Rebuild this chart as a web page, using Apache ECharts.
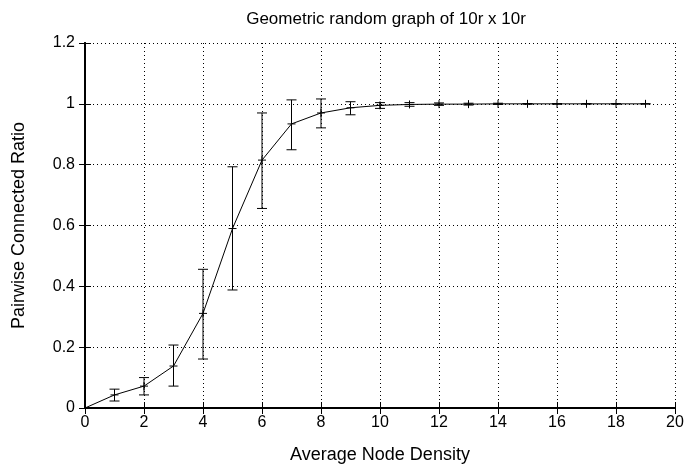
<!DOCTYPE html>
<html>
<head>
<meta charset="utf-8">
<script src="https://cdn.jsdelivr.net/npm/echarts@6/dist/echarts.min.js"></script>
<style>
html,body{margin:0;padding:0;background:#fff;}
#chart{width:686px;height:465px;}
</style>
</head>
<body>
<div id="chart"></div>
<script>
// average node density
var density = [0,1,2,3,4,5,6,7,8,9,10,11,12,13,14,15,16,17,18,19];
// mean ratio
var ratio = [0,0.043,0.072,0.138,0.311,0.590,0.815,0.934,0.970,0.987,0.995,0.998,0.999,0.999,1.0,1.0,1.0,1.0,1.0,1.0];
// error bar ends
var errLow = [0,0.023,0.043,0.072,0.161,0.388,0.656,0.849,0.921,0.964,0.985,0.992,0.995,0.996,0.998,0.999,0.999,1.0,1.0,1.0];
var errHigh = [0,0.062,0.100,0.207,0.456,0.793,0.970,1.013,1.016,1.007,1.004,1.004,1.003,1.002,1.002,1.001,1.001,1.0,1.0,1.0];
var xTicks = [0,2,4,6,8,10,12,14,16,18,20];
var yTicks = [0,0.2,0.4,0.6,0.8,1.0,1.2];

var chart = echarts.init(document.getElementById('chart'));

var lineData = density.map(function(d,i){ return [d, ratio[i]]; });
var errData = [];
for(var i=1;i<density.length;i++){
	errData.push([density[i], ratio[i], errLow[i], errHigh[i]]);
}

function renderErr(params, api){
	var x = api.value(0);
	var c = api.coord([x, api.value(1)]);
	var lo = api.coord([x, api.value(2)]);
	var hi = api.coord([x, api.value(3)]);
	var st = {stroke:'#000', lineWidth:1};
	return {
		type:'group',
		children:[
			{type:'line', shape:{x1:lo[0], y1:lo[1], x2:hi[0], y2:hi[1]}, style:st},
			{type:'line', shape:{x1:lo[0]-5, y1:lo[1], x2:lo[0]+5, y2:lo[1]}, style:st},
			{type:'line', shape:{x1:hi[0]-5, y1:hi[1], x2:hi[0]+5, y2:hi[1]}, style:st},
			{type:'line', shape:{x1:c[0]-4, y1:c[1], x2:c[0]+4, y2:c[1]}, style:st},
			{type:'line', shape:{x1:c[0], y1:c[1]-4, x2:c[0], y2:c[1]+4}, style:st}
		]
	};
}

var gridLine = {show:true, lineStyle:{color:'#000', type:[1,3], width:1}};
var font = 'Liberation Sans, Arial, sans-serif';

var option = {
	animation:false,
	title:{
		text:'Geometric random graph of 10r x 10r',
		left:381, top:6, textAlign:'center',
		textStyle:{fontFamily:font, fontSize:17, fontWeight:'normal', color:'#000'}
	},
	grid:{left:85, right:11, top:43, bottom:57, outerBoundsMode:'none', containLabel:false},
	xAxis:[{
		type:'value', min:0, max:20, interval:2,
		name:'Average Node Density', nameLocation:'middle', nameGap:38,
		nameTextStyle:{fontFamily:font, fontSize:18, color:'#000'},
		axisLine:{show:true, lineStyle:{color:'#000', width:2}},
		axisTick:{show:true, inside:true, length:6, lineStyle:{color:'#000'}},
		axisLabel:{fontFamily:font, fontSize:16, color:'#000', margin:7},
		splitLine:gridLine
	},{
		type:'value', min:0, max:20, interval:2, position:'top',
		axisLine:{show:true, lineStyle:{color:'#000', width:2}},
		axisTick:{show:true, inside:true, length:6, lineStyle:{color:'#000'}},
		axisLabel:{show:false}, splitLine:{show:false}
	}],
	yAxis:[{
		type:'value', min:0, max:1.2, interval:0.2,
		name:'Pairwise Connected Ratio', nameLocation:'middle', nameGap:57,
		nameTextStyle:{fontFamily:font, fontSize:18, color:'#000'},
		axisLine:{show:true, lineStyle:{color:'#000', width:2}},
		axisTick:{show:true, inside:true, length:6, lineStyle:{color:'#000'}},
		axisLabel:{fontFamily:font, fontSize:16, color:'#000', margin:10,
			formatter:function(v){ return String(Math.round(v*10)/10); }},
		splitLine:gridLine
	},{
		type:'value', min:0, max:1.2, interval:0.2, position:'right',
		axisLine:{show:true, lineStyle:{color:'#000', width:2}},
		axisTick:{show:true, inside:true, length:6, lineStyle:{color:'#000'}},
		axisLabel:{show:false}, splitLine:{show:false}
	}],
	series:[{
		type:'line', data:lineData, showSymbol:false,
		lineStyle:{color:'#000', width:1}, z:3
	},{
		type:'custom', data:errData, renderItem:renderErr, z:4,
		encode:{x:0, y:[1,2,3]}
	}]
};
chart.setOption(option);
</script>
</body>
</html>
